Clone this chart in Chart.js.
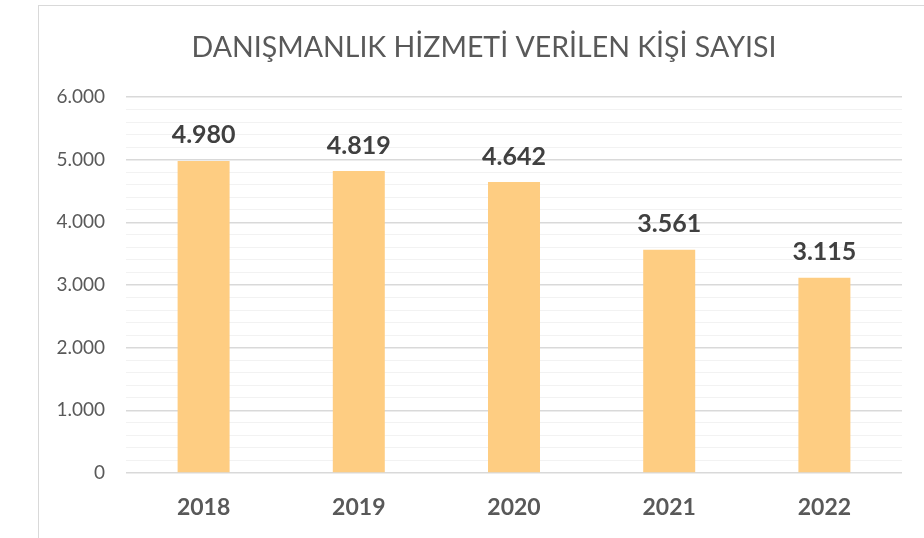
<!DOCTYPE html>
<html>
<head>
<meta charset="utf-8">
<script src="https://cdn.jsdelivr.net/npm/chart.js@4/dist/chart.umd.min.js"></script>
<style>
  html, body { margin: 0; padding: 0; background: #fff; overflow: hidden; }
  #frame { position: absolute; left: 38px; top: 5px; width: 1200px; height: 1200px; border: 1px solid #d9d9d9; }
  #wrap { position: absolute; left: 0; top: 0; width: 924px; height: 538px; }
</style>
</head>
<body>
<div id="frame"></div>
<div id="wrap"><canvas id="c" width="924" height="538"></canvas></div>
<script>
const titleText = "DANIŞMANLIK HİZMETİ VERİLEN KİŞİ SAYISI";
const years = ["2018", "2019", "2020", "2021", "2022"];
const people = [4980, 4819, 4642, 3561, 3115];
const yMax = 6000;
const yStep = 200;

function fmt(v) {
  return String(Math.round(v)).replace(/\B(?=(\d{3})+(?!\d))/g, ".");
}

const FONT = "Lato, 'Open Sans', sans-serif";

const valueLabels = {
  id: "valueLabels",
  afterDatasetsDraw(chart) {
    const ctx = chart.ctx;
    const meta = chart.getDatasetMeta(0);
    ctx.save();
    ctx.font = "bold 25px " + FONT;
    ctx.fillStyle = "#404040";
    ctx.textAlign = "center";
    ctx.textBaseline = "bottom";
    meta.data.forEach((bar, i) => {
      ctx.fillText(fmt(chart.data.datasets[0].data[i]), bar.x, bar.y - 13);
    });
    ctx.restore();
  }
};

const chartTitle = {
  id: "chartTitle",
  afterDraw(chart) {
    const ctx = chart.ctx;
    ctx.save();
    ctx.font = "28.5px " + FONT;
    ctx.fillStyle = "#595959";
    ctx.textAlign = "center";
    ctx.textBaseline = "middle";
    ctx.fillText(titleText, 484, 48);
    ctx.restore();
  }
};

new Chart(document.getElementById("c"), {
  type: "bar",
  data: {
    labels: years,
    datasets: [{
      data: people,
      backgroundColor: "#FECD82",
      borderWidth: 0,
      barPercentage: 0.67,
      categoryPercentage: 0.5
    }]
  },
  options: {
    responsive: false,
    animation: false,
    devicePixelRatio: 1,
    layout: { padding: { left: 0, right: 22, top: 97, bottom: 0 } },
    plugins: {
      legend: { display: false },
      tooltip: { enabled: false },
      title: { display: false }
    },
    scales: {
      x: {
        afterFit(scale) { scale.height = 65; },
        grid: { display: false, drawTicks: false },
        border: { display: false },
        ticks: {
          color: "#595959",
          font: { family: FONT, size: 23, weight: "bold" },
          padding: 21
        }
      },
      y: {
        min: 0,
        max: yMax,
        afterFit(scale) { scale.width = 126; },
        border: { display: false },
        grid: {
          drawTicks: false,
          color: (c) => (c.tick && c.tick.value % 1000 === 0) ? "#d9d9d9" : "#f2f2f2",
          lineWidth: (c) => (c.tick && c.tick.value % 1000 === 0) ? 1.5 : 1
        },
        ticks: {
          stepSize: yStep,
          autoSkip: false,
          color: "#595959",
          font: { family: FONT, size: 19 },
          padding: 21,
          callback: (v) => (v % 1000 === 0 ? fmt(v) : "")
        }
      }
    }
  },
  plugins: [valueLabels, chartTitle]
});
</script>
</body>
</html>
